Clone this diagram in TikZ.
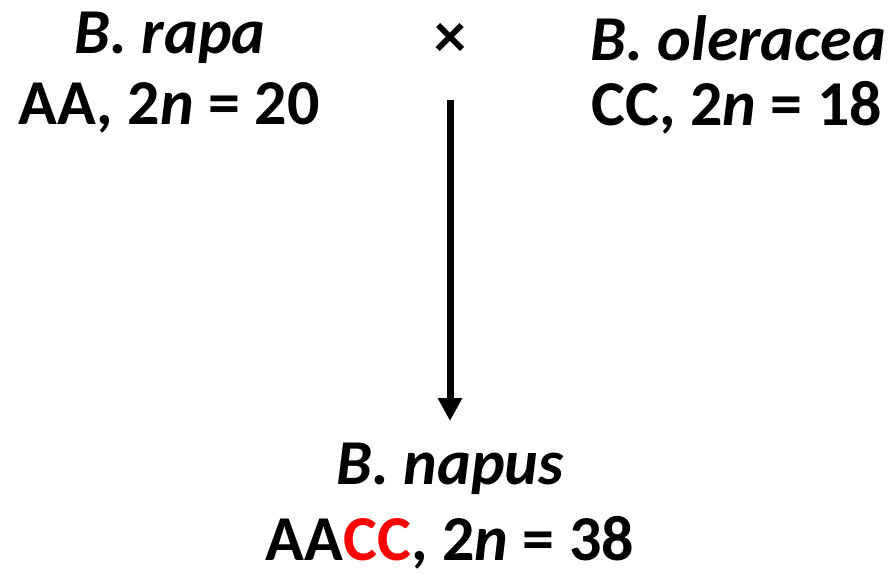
\documentclass[tikz,border=0pt]{standalone}
\usepackage{xcolor}
\usepackage{fontspec}
\setmainfont{Carlito}
\usetikzlibrary{arrows.meta,positioning}

\tikzset{
  species/.style={font=\fontsize{45.5}{54}\selectfont\bfseries\itshape, inner sep=0pt},
  genome/.style={font=\fontsize{45.5}{54}\selectfont\bfseries, inner sep=0pt},
  crossarrow/.style={-{Triangle[length=23*0.025cm,width=23*0.025cm]}, line width=7*0.025cm}
}

\begin{document}
\begin{tikzpicture}[x=0.025cm,y=-0.025cm]
    \useasboundingbox (0,0) rectangle (891,574);

    % Parents
    \node[species] (rapa) at (170,38) {B. rapa};
    \node[genome] (rapaG) at (169,108) {AA, 2\textit{n} = 20};
    \node[species] (oler) at (738,38) {B. oleracea};
    \node[genome] (olerG) at (737,108) {CC, 2\textit{n} = 18};

    % Cross sign
    \node[genome] (cross) at (450,40) {×};

    % Hybrid
    \node[species] (napus) at (450,469) {B. napus};
    \node[genome] (napusG) at (450,543) {AA\textcolor{red}{CC}, 2\textit{n} = 38};

    % Arrow
    \coordinate (start) at (450,100);
    \coordinate (stop) at (450,421);
    \draw[crossarrow] (start) -- (stop);
\end{tikzpicture}
\end{document}
